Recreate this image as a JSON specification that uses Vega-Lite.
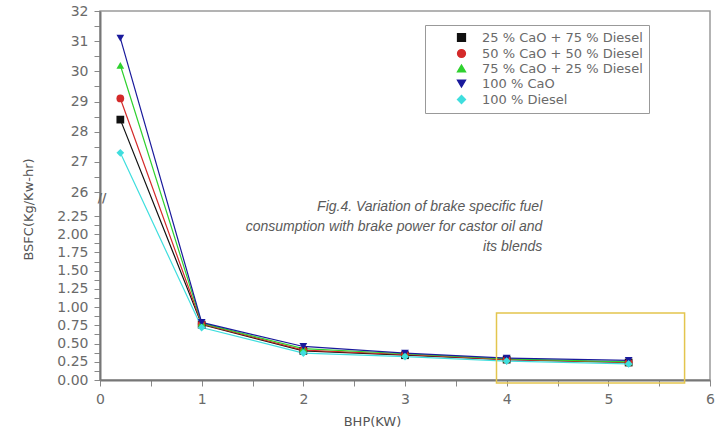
{
  "$schema": "https://vega.github.io/schema/vega-lite/v6.json",
  "width": 610,
  "height": 369,
  "autosize": "none",
  "padding": {"left": 100, "top": 11, "right": 12, "bottom": 51},
  "background": "white",
  "config": {
    "view": {"stroke": "#9a9a9a", "strokeWidth": 1.5},
    "font": "DejaVu Sans"
  },
  "datasets": {
    "series": [
      {"bhp": 0.2, "bsfc": 28.4, "fuel": "25 % CaO + 75 % Diesel"},
      {"bhp": 1, "bsfc": 0.76, "fuel": "25 % CaO + 75 % Diesel"},
      {"bhp": 2, "bsfc": 0.40, "fuel": "25 % CaO + 75 % Diesel"},
      {"bhp": 3, "bsfc": 0.34, "fuel": "25 % CaO + 75 % Diesel"},
      {"bhp": 4, "bsfc": 0.28, "fuel": "25 % CaO + 75 % Diesel"},
      {"bhp": 5.2, "bsfc": 0.24, "fuel": "25 % CaO + 75 % Diesel"},
      {"bhp": 0.2, "bsfc": 29.1, "fuel": "50 % CaO + 50 % Diesel"},
      {"bhp": 1, "bsfc": 0.77, "fuel": "50 % CaO + 50 % Diesel"},
      {"bhp": 2, "bsfc": 0.41, "fuel": "50 % CaO + 50 % Diesel"},
      {"bhp": 3, "bsfc": 0.35, "fuel": "50 % CaO + 50 % Diesel"},
      {"bhp": 4, "bsfc": 0.28, "fuel": "50 % CaO + 50 % Diesel"},
      {"bhp": 5.2, "bsfc": 0.24, "fuel": "50 % CaO + 50 % Diesel"},
      {"bhp": 0.2, "bsfc": 30.2, "fuel": "75 % CaO + 25 % Diesel"},
      {"bhp": 1, "bsfc": 0.78, "fuel": "75 % CaO + 25 % Diesel"},
      {"bhp": 2, "bsfc": 0.43, "fuel": "75 % CaO + 25 % Diesel"},
      {"bhp": 3, "bsfc": 0.36, "fuel": "75 % CaO + 25 % Diesel"},
      {"bhp": 4, "bsfc": 0.29, "fuel": "75 % CaO + 25 % Diesel"},
      {"bhp": 5.2, "bsfc": 0.25, "fuel": "75 % CaO + 25 % Diesel"},
      {"bhp": 0.2, "bsfc": 31.1, "fuel": "100 % CaO"},
      {"bhp": 1, "bsfc": 0.79, "fuel": "100 % CaO"},
      {"bhp": 2, "bsfc": 0.46, "fuel": "100 % CaO"},
      {"bhp": 3, "bsfc": 0.37, "fuel": "100 % CaO"},
      {"bhp": 4, "bsfc": 0.30, "fuel": "100 % CaO"},
      {"bhp": 5.2, "bsfc": 0.27, "fuel": "100 % CaO"},
      {"bhp": 0.2, "bsfc": 27.3, "fuel": "100 % Diesel"},
      {"bhp": 1, "bsfc": 0.72, "fuel": "100 % Diesel"},
      {"bhp": 2, "bsfc": 0.37, "fuel": "100 % Diesel"},
      {"bhp": 3, "bsfc": 0.32, "fuel": "100 % Diesel"},
      {"bhp": 4, "bsfc": 0.26, "fuel": "100 % Diesel"},
      {"bhp": 5.2, "bsfc": 0.22, "fuel": "100 % Diesel"}
    ],
    "box": [{"bhp": 3.9, "bhp2": 5.75, "bsfc": -0.04, "bsfc2": 0.92}],
    "note": [{"bhp": 4.35, "bsfc": 11, "label": "Fig.4. Variation of brake specific fuel\nconsumption with brake power for castor oil and\nits blends"}],
    "brk": [{"bhp": 0.02, "bsfc": 20, "label": "//"}]
  },
  "encoding": {
    "x": {
      "field": "bhp", "type": "quantitative",
      "scale": {"domain": [0, 6], "nice": false, "zero": false},
      "axis": {
        "title": "BHP(KW)",
        "values": [0, 0.5, 1, 1.5, 2, 2.5, 3, 3.5, 4, 4.5, 5, 5.5, 6],
        "labelExpr": "datum.value % 1 == 0 ? format(datum.value, 'd') : ''",
        "labelFont": "DejaVu Sans", "labelFontSize": 14, "labelColor": "#6a6a6a",
        "labelPadding": 6, "labelOverlap": false, "labelFlush": false,
        "ticks": true, "tickSize": 6,
        "domainColor": "#777", "domainWidth": 2,
        "grid": false,
        "titleFont": "DejaVu Sans", "titleFontSize": 13, "titleFontWeight": "normal", "titleColor": "#555",
        "titleX": 272, "titleY": 41, "titleBaseline": "middle"
      }
    },
    "y": {
      "field": "bsfc", "type": "quantitative",
      "scale": {"type": "linear", "domain": [0, 2.25, 26, 32], "range": [369, 205, 181, 0], "nice": false, "zero": false},
      "axis": {
        "title": "BSFC(Kg/Kw-hr)",
        "values": [0, 0.125, 0.25, 0.375, 0.5, 0.625, 0.75, 0.875, 1, 1.125, 1.25, 1.375, 1.5, 1.625, 1.75, 1.875, 2, 2.125, 2.25, 26, 26.5, 27, 27.5, 28, 28.5, 29, 29.5, 30, 30.5, 31, 31.5, 32],
        "labelExpr": "datum.value >= 26 ? (datum.value % 1 == 0 ? format(datum.value, 'd') : '') : (abs(datum.value * 4 - round(datum.value * 4)) < 0.001 ? format(datum.value, '.2f') : '')",
        "labelFont": "DejaVu Sans", "labelFontSize": 14, "labelColor": "#6a6a6a",
        "labelPadding": 6, "labelOverlap": false, "labelFlush": false,
        "ticks": true, "tickSize": 6,
        "domainColor": "#777", "domainWidth": 2,
        "grid": false,
        "titleFont": "DejaVu Sans", "titleFontSize": 13, "titleFontWeight": "normal", "titleColor": "#555",
        "titleX": -72, "titleY": 198, "titleAngle": -90, "titleAlign": "center", "titleBaseline": "middle"
      }
    }
  },
  "layer": [
    {
      "data": {"name": "series"},
      "mark": {"type": "line", "strokeWidth": 1.2},
      "encoding": {
        "color": {
          "field": "fuel", "type": "nominal",
          "scale": {
            "domain": ["25 % CaO + 75 % Diesel", "50 % CaO + 50 % Diesel", "75 % CaO + 25 % Diesel", "100 % CaO", "100 % Diesel"],
            "range": ["#111111", "#d42a2a", "#2fd12f", "#1a1a9c", "#3fdede"]
          }
        },
        "detail": {"field": "fuel"}
      }
    },
    {
      "data": {"name": "box"},
      "mark": {"type": "rect", "fill": null, "fillOpacity": 0, "stroke": "#e3c54e", "strokeWidth": 1.5},
      "encoding": {
        "x2": {"field": "bhp2"},
        "y2": {"field": "bsfc2"}
      }
    },
    {
      "data": {"name": "series"},
      "mark": {"type": "point", "filled": true, "size": 60, "opacity": 1},
      "encoding": {
        "color": {
          "field": "fuel", "type": "nominal",
          "legend": {
            "title": null, "orient": "none", "legendX": 325, "legendY": 14,
            "strokeColor": "#999", "fillColor": "white", "padding": 6,
            "labelFont": "DejaVu Sans", "labelFontSize": 13, "labelColor": "#6a6a6a", "labelLimit": 400,
            "symbolSize": 60, "symbolOffset": 24, "rowPadding": 1, "labelOffset": 14
          }
        },
        "shape": {
          "field": "fuel", "type": "nominal",
          "scale": {
            "domain": ["25 % CaO + 75 % Diesel", "50 % CaO + 50 % Diesel", "75 % CaO + 25 % Diesel", "100 % CaO", "100 % Diesel"],
            "range": ["square", "circle", "triangle-up", "triangle-down", "diamond"]
          }
        }
      }
    },
    {
      "data": {"name": "note"},
      "mark": {"type": "text", "font": "Liberation Sans", "fontSize": 14, "fontStyle": "italic", "color": "#5a5a5a", "align": "right", "baseline": "middle", "lineBreak": "\n", "lineHeight": 20},
      "encoding": {
        "text": {"field": "label"}
      }
    },
    {
      "data": {"name": "brk"},
      "mark": {"type": "text", "font": "DejaVu Sans", "fontSize": 12, "fontWeight": "bold", "color": "#666", "align": "center", "baseline": "middle"},
      "encoding": {
        "text": {"field": "label"}
      }
    }
  ]
}
